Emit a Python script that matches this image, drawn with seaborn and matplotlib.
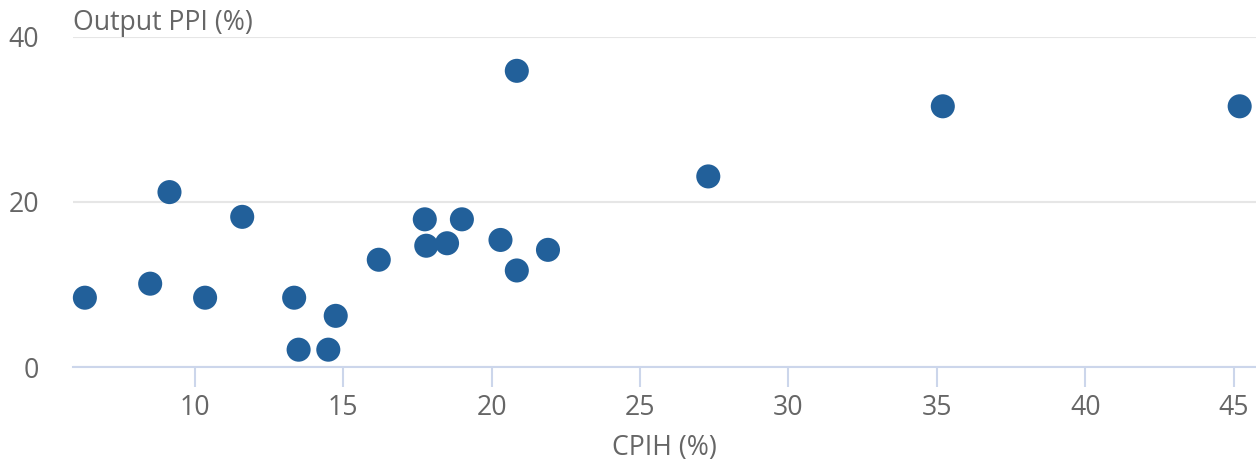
import matplotlib
matplotlib.use("Agg")
import matplotlib.pyplot as plt
import seaborn as sns
import pandas as pd

cpih = [6.3, 8.5, 9.15, 10.35, 11.6, 13.35, 13.5, 14.5, 14.75, 16.2, 17.75, 17.8,
        18.5, 19.0, 20.3, 20.85, 20.85, 21.9, 27.3, 35.2, 45.2]
ppi = [8.4, 10.1, 21.2, 8.4, 18.2, 8.4, 2.1, 2.1, 6.2, 13.0, 17.9, 14.7,
       15.0, 17.9, 15.4, 35.9, 11.7, 14.2, 23.1, 31.6, 31.6]
x_ticks = [10, 15, 20, 25, 30, 35, 40, 45]
y_ticks = [0, 20, 40]

df = pd.DataFrame({"CPIH": cpih, "PPI": ppi})

sns.set_theme(style="white")
plt.rcParams["font.family"] = ["Open Sans", "DejaVu Sans"]

fs = 19.2
fig = plt.figure(figsize=(12.56, 4.61), dpi=100)
ax = fig.add_axes([73/1256, 1 - 367/461, 1 - 73/1256, (367 - 37)/461])

sns.scatterplot(data=df, x="CPIH", y="PPI", ax=ax, s=300, color="#22609a",
                edgecolor="none", linewidth=0, clip_on=False, zorder=3)

ax.set_xlim(5.9, 45.75)
ax.set_ylim(0, 40)
ax.set_xticks(x_ticks)
ax.set_yticks(y_ticks)

for s in ["top", "right", "left"]:
    ax.spines[s].set_visible(False)
ax.spines["bottom"].set_color("#ccd6eb")
ax.spines["bottom"].set_linewidth(1.5)

ax.grid(axis="y", color="#e6e6e6", linewidth=1.5)
ax.grid(axis="x", visible=False)
ax.set_axisbelow(True)

ax.tick_params(axis="x", direction="out", length=14.5, width=1.5, color="#ccd6eb",
               labelsize=fs, labelcolor="#666666", pad=5, bottom=True)
ax.tick_params(axis="y", length=0, labelsize=fs, labelcolor="#666666", pad=24.5)

ax.set_xlabel("CPIH (%)", fontsize=fs, color="#666666", va="center")
ax.xaxis.set_label_coords(0.5, -(448 - 367) / 330)
ax.set_ylabel("")
fig.text(73/1256, 1 - 23/461, "Output PPI (%)", fontsize=fs, color="#666666",
         ha="left", va="center")

fig.savefig("out.png", dpi=100, facecolor="white")
